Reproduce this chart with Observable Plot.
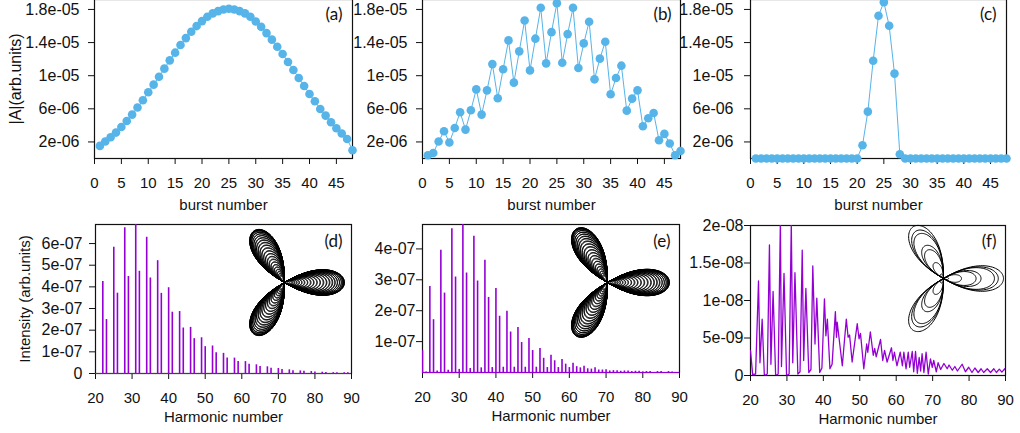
<!DOCTYPE html>
<html>
<head>
<meta charset="utf-8">
<script src="https://cdn.jsdelivr.net/npm/d3@7"></script>
<script src="https://cdn.jsdelivr.net/npm/@observablehq/plot@0.6"></script>
<style>
  html, body { margin: 0; padding: 0; background: #fff; }
  #fig { position: relative; width: 1020px; height: 433px; overflow: hidden; background: #fff; }
  #fig svg { position: absolute; overflow: visible; background: transparent; }
</style>
</head>
<body>
<div id="fig"></div>
<script>
// ---------- burst amplitudes |A| for the 48 bursts (units of 1e-6) ----------
const bursts = [1,2,3,4,5,6,7,8,9,10,11,12,13,14,15,16,17,18,19,20,21,22,23,24,
                25,26,27,28,29,30,31,32,33,34,35,36,37,38,39,40,41,42,43,44,45,46,47,48];
const ampA = [1.52,2.05,2.57,3.13,3.81,4.53,5.30,6.15,7.03,8.00,8.92,9.88,10.85,11.85,12.78,13.70,
              14.54,15.31,15.99,16.59,17.12,17.52,17.80,18.00,18.08,18.00,17.80,17.52,17.12,16.55,15.90,15.14,
              14.35,13.50,12.61,11.65,10.68,9.72,8.75,7.79,6.91,5.98,5.18,4.38,3.65,3.01,2.36,1.00];
const ampB = [0.40,0.67,2.05,3.29,1.93,3.69,5.58,3.49,5.82,8.35,5.30,8.23,11.40,7.27,10.77,14.26,
              9.16,12.94,16.67,10.64,14.47,18.20,11.49,15.26,18.76,11.57,15.02,18.20,10.92,13.90,16.52,9.56,
              12.06,14.10,7.75,9.72,11.21,5.78,7.23,8.23,3.89,4.86,5.50,2.20,2.97,1.81,0.40,0.91];
const ampC = [0,0,0,0,0,0,0,0,0,0,0,0,0,0,0,0,0,0,0,0,
              1.60,5.66,11.81,17.24,18.88,16.03,10.25,0.52,
              0,0,0,0,0,0,0,0,0,0,0,0,0,0,0,0,0,0,0,0];
const AMP_UNIT = 1e-6;

// ---------- harmonic spectra ----------
// (d): peak heights, units of 1e-7
const harmD = [22,23,25,26,28,29,31,32,34,35,37,38,40,41,43,44,46,47,49,50,52,53,55,56,
               58,59,61,62,64,65,67,68,70,71,73,74,76,77,79,80,82,83,85,86,88,89];
const peakD = [4.25,2.49,5.83,3.71,6.73,4.48,7.00,4.72,6.29,4.41,5.21,3.70,3.96,2.83,2.86,2.10,2.13,1.61,1.65,1.24,1.27,0.96,0.93,0.71,
               0.71,0.55,0.55,0.43,0.40,0.32,0.31,0.24,0.23,0.19,0.17,0.13,0.12,0.10,0.09,0.07,0.06,0.05,0.04,0.04,0.03,0.03];
// (e): peak heights, units of 1e-7
const harmE = [20,21,22,23,24,25,26,27,28,29,30,31,32,33,34,35,36,37,38,39,40,41,42,43,44,45,46,47,48,49,50,
               51,52,53,54,55,56,57,58,59,60,61,62,63,64,65,66,67,68,69,70,71,72,73,74,75,76,77,78,79,80,
               81,82,84,85,87,88];
const peakE = [0.70,0.02,2.78,1.71,0.05,3.96,2.57,0.07,4.65,3.09,0.10,4.90,3.22,0.13,4.41,2.96,0.15,3.63,2.43,0.16,2.72,1.82,0.17,1.98,1.31,0.17,1.46,0.97,0.17,1.10,0.71,
               0.17,0.78,0.46,0.16,0.56,0.38,0.16,0.42,0.27,0.16,0.30,0.19,0.15,0.20,0.12,0.11,0.15,0.08,0.08,0.09,0.05,0.06,0.06,0.04,0.05,0.05,0.03,0.04,0.04,0.02,
               0.03,0.03,0.03,0.03,0.03,0.02];
// (f): continuous spectrum, harmonic order and intensity (units of 1e-9)
const harmF = [20.0,20.6,21.4,22.2,22.6,23.2,23.8,24.6,25.2,25.6,26.2,26.9,27.6,28.2,28.5,29.2,29.9,30.6,
               31.2,31.6,32.2,33.0,33.6,34.2,34.6,35.2,36.0,36.6,37.1,37.7,38.2,39.0,39.6,40.3,40.7,41.1,
               41.8,42.4,43.3,43.6,43.8,45.2,46.3,46.8,47.2,47.9,49.3,49.8,50.2,51.1,51.9,52.2,52.9,53.7,
               54.1,54.5,55.7,56.3,56.8,57.5,58.7,59.1,59.5,60.2,61.1,61.7,62.1,62.7,63.3,63.7,64.4,64.8,
               65.3,65.8,66.3,66.7,67.1,67.6,68.2,68.8,69.4,69.9,70.3,71.0,71.5,72.2,73.1,74.0,74.5,75.4,
               76.1,76.8,78.1,79.0,79.9,80.8,81.6,82.5,83.3,84.0,85.0,85.9,86.8,87.5,88.3,89.0,89.8,90.0];
const intF  = [3.3,0.1,0.2,12.6,1.7,7.5,0.0,0.2,17.4,1.5,11.2,0.0,0.2,20.5,1.2,13.6,0.0,0.2,
               20.3,1.7,13.7,0.2,0.5,16.7,2.0,11.6,0.4,0.8,14.6,4.2,10.3,0.4,1.0,10.2,5.3,7.5,
               0.9,1.5,8.5,5.1,7.1,1.3,7.5,5.1,5.4,1.8,6.9,4.9,5.6,0.9,4.2,3.1,5.8,2.7,
               3.6,2.5,4.8,2.0,3.35,1.8,3.7,2.0,3.1,1.3,3.1,1.3,3.1,0.9,3.1,1.1,3.2,0.5,
               3.2,0.3,2.4,0.6,2.9,0.4,3.1,0.2,2.2,1.1,2.0,0.5,1.7,0.8,1.6,0.9,1.4,0.7,
               1.2,0.6,1.5,0.5,1.1,0.4,1.0,0.4,0.9,0.4,0.9,0.4,0.9,0.4,0.85,0.45,0.9,0.7];

// ---------- tick values and labels ----------
const burstTicks = [0,5,10,15,20,25,30,35,40,45];
const ampTicks = [2e-6, 6e-6, 1e-5, 1.4e-5, 1.8e-5];
const ampTickText = ["2e-06","6e-06","1e-05","1.4e-05","1.8e-05"];
const harmTicks = [20,30,40,50,60,70,80,90];
const intTicksD = [0,1e-7,2e-7,3e-7,4e-7,5e-7,6e-7];
const intTickTextD = ["0","1e-07","2e-07","3e-07","4e-07","5e-07","6e-07"];
const intTicksE = [1e-7,2e-7,3e-7,4e-7];
const intTickTextE = ["1e-07","2e-07","3e-07","4e-07"];
const intTicksF = [0,5e-9,1e-8,1.5e-8,2e-8];
const intTickTextF = ["0","5e-09","1e-08","1.5e-08","2e-08"];

const ink = "#111";
const sky = "#56B4E9";
const violet = "#9400D3";
const font = "'Liberation Sans', Arial, Helvetica, sans-serif";
const tagFont = "Lato, 'Open Sans', sans-serif";
const fig = document.getElementById("fig");

function labeler(ticks, texts) {
  const m = new Map(ticks.map((t, i) => [t, texts[i]]));
  return (d) => m.get(d);
}
function place(svg, left, top) {
  svg.style.left = left + "px";
  svg.style.top = top + "px";
  fig.append(svg);
}
const baseStyle = {fontFamily: font, fontSize: "15px", color: ink, background: "transparent", overflow: "visible"};

// centred captions (axis titles and panel tags)
const xTitle = (s, dy) => Plot.text([s], {text: (d) => d, frameAnchor: "bottom", textAnchor: "middle", lineAnchor: "middle", dy, fill: ink});
const yTitle = (s, dx, fontSize) => Plot.text([s], {text: (d) => d, frameAnchor: "left", textAnchor: "middle", lineAnchor: "middle",
                                                    rotate: -90, dx, fontSize, fill: ink});
const tagText = (s, dx, dy) => Plot.text([s], {text: (d) => d, frameAnchor: "top-right", textAnchor: "end", lineAnchor: "middle",
                                               dx, dy, fontFamily: tagFont, fontSize: 17, fill: ink});

// top row: burst amplitude panels
function burstPanel({amp, tag, width, marginLeft, marginRight, yPad, tagDx, yLabel}) {
  const rows = bursts.map((b, i) => ({burst: b, amp: amp[i] * AMP_UNIT}));
  const marks = [
    Plot.axisX({ticks: burstTicks, tickSize: 6, tickPadding: 13, label: null}),
    Plot.axisY({ticks: ampTicks, tickSize: 6, tickPadding: yPad, label: null, fontSize: 16,
                tickFormat: labeler(ampTicks, ampTickText)}),
    Plot.frame({stroke: ink, strokeWidth: 1.2}),
    Plot.line(rows, {x: "burst", y: "amp", stroke: sky, strokeWidth: 1}),
    Plot.dot(rows, {x: "burst", y: "amp", r: 4.3, fill: sky, stroke: "none"}),
    tagText(tag, tagDx, 15),
    xTitle("burst number", 47)
  ];
  if (yLabel) marks.push(yTitle(yLabel, -79, 16));
  return Plot.plot({
    width, height: 225, marginTop: 9, marginBottom: 57, marginLeft, marginRight,
    x: {domain: [0, 48]}, y: {domain: [0, 1.92e-5]},
    style: baseStyle, marks
  });
}

// bottom row: harmonic spectra
function spectrumPanel({spectrum, yDomain, ticks, tickText, tag, width, marginLeft, marginRight, marginTop, marginBottom, yPad, tagDy, yLabel}) {
  const marks = [
    Plot.axisX({ticks: harmTicks, tickSize: 6, tickPadding: 13, label: null}),
    Plot.axisY({ticks, tickSize: 6, tickPadding: yPad, label: null, fontSize: 16, tickFormat: labeler(ticks, tickText)}),
    Plot.frame({stroke: ink, strokeWidth: 1.2}),
    ...spectrum,
    tagText(tag, -9, tagDy),
    xTitle("Harmonic number", 44)
  ];
  if (yLabel) marks.push(yTitle(yLabel, -70, 15));
  return Plot.plot({
    width, height: 218, marginTop, marginBottom, marginLeft, marginRight,
    x: {domain: [20, 90]}, y: {domain: yDomain},
    style: baseStyle, marks
  });
}

function peakMarks(harm, peak, unit) {
  const rows = harm.map((h, i) => ({h, v: peak[i] * unit}));
  return [
    Plot.ruleY([0], {stroke: violet, strokeWidth: 1.2}),
    Plot.ruleX(rows, {x: "h", y1: 0, y2: "v", stroke: violet, strokeWidth: 1.6, clip: true})
  ];
}

// three-lobed polarization loop of the two-colour driving field (lobes at 0°, 120°, 240°)
const trefoil = {
  draw(context, size) {
    const R = Math.sqrt(size / Math.PI);
    const n = 360;
    for (let i = 0; i <= n; ++i) {
      const th = (2 * Math.PI * i) / n;
      const c = Math.cos(3 * th);
      const r = c > 0 ? R * Math.pow(c, 0.7) : 0;
      const x = r * Math.cos(th), y = r * Math.sin(th);
      if (i === 0) context.moveTo(x, y); else context.lineTo(x, y);
    }
    context.closePath();
  }
};
function fieldInset(amp, R, strokeWidth) {
  const rows = bursts.map((b, i) => ({burst: b, amp: amp[i]}));
  return Plot.plot({
    width: 2 * R + 10, height: 2 * R + 10, margin: 0,
    r: {type: "linear", domain: [0, d3.max(amp)], range: [0, R]},
    style: {background: "transparent", overflow: "visible"},
    marks: [Plot.dot(rows, {r: "amp", symbol: trefoil, frameAnchor: "middle", fill: "none", stroke: "black", strokeWidth})]
  });
}

// ---- top row ----
place(burstPanel({amp: ampA, tag: "(a)", width: 360, marginLeft: 94, marginRight: 8, yPad: 9, tagDx: -10, yLabel: "|A|(arb.units)"}), 0, -10);
place(burstPanel({amp: ampB, tag: "(b)", width: 345, marginLeft: 82, marginRight: 5, yPad: 9, tagDx: -9}), 340, -10);
place(burstPanel({amp: ampC, tag: "(c)", width: 340, marginLeft: 70, marginRight: 14, yPad: 11, tagDx: -10}), 680, -10);

// ---- bottom row ----
place(spectrumPanel({
  spectrum: peakMarks(harmD, peakD, 1e-7), yDomain: [0, 6.88e-7], ticks: intTicksD, tickText: intTickTextD,
  tag: "(d)", width: 360, marginLeft: 95, marginRight: 9, marginTop: 9, marginBottom: 60, yPad: 7, tagDy: 17,
  yLabel: "Intensity (arb.units)"}), 0, 215);
place(spectrumPanel({
  spectrum: peakMarks(harmE, peakE, 1e-7), yDomain: [0, 4.79e-7], ticks: intTicksE, tickText: intTickTextE,
  tag: "(e)", width: 342, marginLeft: 82, marginRight: 3, marginTop: 9, marginBottom: 61, yPad: 1, tagDy: 17}), 340, 215);
const rowsF = harmF.map((h, i) => ({h, v: intF[i] * 1e-9}));
place(spectrumPanel({
  spectrum: [Plot.line(rowsF, {x: "h", y: "v", stroke: violet, strokeWidth: 1.3, clip: true})],
  yDomain: [0, 2e-8], ticks: intTicksF, tickText: intTickTextF,
  tag: "(f)", width: 340, marginLeft: 70, marginRight: 15, marginTop: 10, marginBottom: 58, yPad: 1, tagDy: 16}), 680, 215);

// ---- polarization insets (driving field, one loop per burst) ----
place(fieldInset(ampA, 60, 1), 284 - 65, 282 - 65);
place(fieldInset(ampA, 62, 1), 607 - 67, 282 - 67);
place(fieldInset(ampC, 60, 1), 943 - 65, 278 - 65);
</script>
</body>
</html>
